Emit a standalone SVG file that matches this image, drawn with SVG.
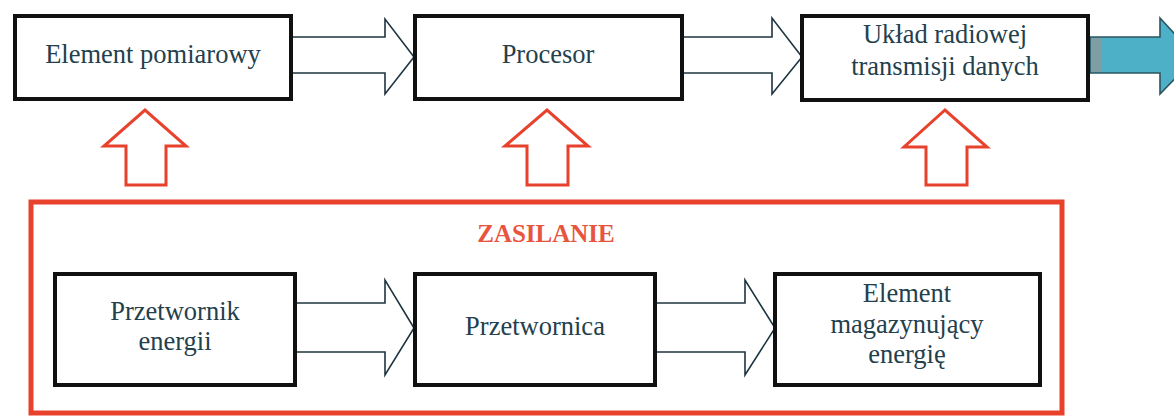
<svg xmlns="http://www.w3.org/2000/svg" width="1174" height="416" viewBox="0 0 1174 416">
<style>
.box{fill:#fff;stroke:#111;stroke-width:4}
.flow{fill:#fff;stroke:#1e3440;stroke-width:1.6;stroke-linejoin:miter}
.pwr{fill:#fff;stroke:#e8412c;stroke-width:3}
.lbl{font-family:'Liberation Serif','DejaVu Serif',serif;font-size:26.5px;fill:#23404c;text-anchor:middle}
.red{font-family:'Liberation Serif','DejaVu Serif',serif;font-size:25px;font-weight:bold;fill:#e8553f;text-anchor:middle}
</style>
<rect width="1174" height="416" fill="#fff"/>
<g id="connectors">
  <polygon class="flow" points="291,37 385,37 385,19 414,57 385,94 385,73 291,73"/>
  <polygon class="flow" points="682,37 772,37 772,18 802,57 772,94 772,73 682,73"/>
  <polygon points="1090,37 1160,37 1160,18 1196,57 1160,94 1160,73 1090,73" fill="#4db0c6" stroke="#2a5560" stroke-width="1.6"/>
  <rect x="1092" y="38" width="10" height="34" fill="#7f9ea4"/>
  <polygon class="pwr" points="126,185 126,146 104,146 145,110 186,146 166,146 166,185"/>
  <polygon class="pwr" points="527,185 527,146 505,146 547,110 588,146 568,146 568,185"/>
  <polygon class="pwr" points="926,185 926,147 904,147 945,110 987,147 967,147 967,185"/>
  <polygon class="flow" points="295,303 385,303 385,280 414,328 385,375 385,352 295,352"/>
  <polygon class="flow" points="655,303 745,303 745,280 775,328 745,375 745,352 655,352"/>
</g>
<g id="zasilanie">
  <rect x="31" y="202" width="1031" height="211" fill="none" stroke="#e8412c" stroke-width="5"/>
  <text class="red" x="546" y="242">ZASILANIE</text>
</g>
<g id="element-pomiarowy">
  <rect class="box" x="15" y="16" width="276" height="83"/>
  <text class="lbl" x="153" y="63">Element pomiarowy</text>
</g>
<g id="procesor">
  <rect class="box" x="415" y="16" width="267" height="83"/>
  <text class="lbl" x="548" y="63">Procesor</text>
</g>
<g id="uklad-radiowej">
  <rect class="box" x="802" y="16" width="286" height="84"/>
  <text class="lbl" x="945" y="43">Układ radiowej</text>
  <text class="lbl" x="945" y="75">transmisji danych</text>
</g>
<g id="przetwornik">
  <rect class="box" x="55" y="274" width="240" height="111"/>
  <text class="lbl" x="175" y="320">Przetwornik</text>
  <text class="lbl" x="175" y="350">energii</text>
</g>
<g id="przetwornica">
  <rect class="box" x="415" y="274" width="240" height="111"/>
  <text class="lbl" x="535" y="335">Przetwornica</text>
</g>
<g id="element-magazynujacy">
  <rect class="box" x="775" y="274" width="265" height="111"/>
  <text class="lbl" x="907" y="302">Element</text>
  <text class="lbl" x="907" y="333">magazynujący</text>
  <text class="lbl" x="907" y="363">energię</text>
</g>
</svg>
